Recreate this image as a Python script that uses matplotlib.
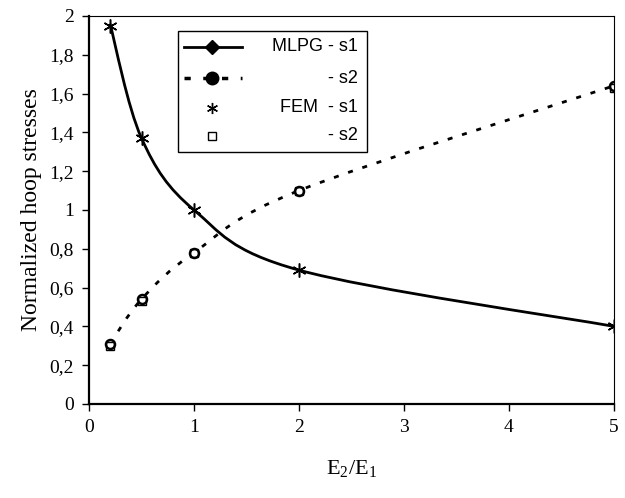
import numpy as np
import matplotlib
matplotlib.use("Agg")
import matplotlib.pyplot as plt
from matplotlib.path import Path
from matplotlib.patches import PathPatch, Rectangle
from matplotlib.lines import Line2D

# stiffness ratio E2/E1
ratio = [0.2, 0.5, 1.0, 2.0, 5.0]

# normalized hoop stresses
mlpg_s1 = [1.96, 1.37, 1.00, 0.69, 0.40]
mlpg_s2 = [0.31, 0.54, 0.78, 1.10, 1.64]
fem_s1 = [1.95, 1.37, 1.00, 0.69, 0.40]
fem_s2 = [0.30, 0.53, 0.78, 1.10, 1.63]

yticks = [0, 0.2, 0.4, 0.6, 0.8, 1.0, 1.2, 1.4, 1.6, 1.8, 2.0]
ytick_labels = ["0", "0,2", "0,4", "0,6", "0,8", "1", "1,2", "1,4", "1,6", "1,8", "2"]
xticks = [0, 1, 2, 3, 4, 5]

plt.rcParams["font.family"] = "Liberation Serif"
plt.rcParams["mathtext.fontset"] = "custom"
plt.rcParams["mathtext.rm"] = "Liberation Serif"


def smooth_path(x, y):
    # cubic bezier through the points (catmull-rom style, like spreadsheet smoothing)
    p = np.column_stack([x, y])
    n = len(p)
    verts = [p[0]]
    codes = [Path.MOVETO]
    for i in range(n - 1):
        p0 = p[i - 1] if i > 0 else p[i]
        p1 = p[i]
        p2 = p[i + 1]
        p3 = p[i + 2] if i + 2 < n else p[i + 1]
        c1 = p1 + (p2 - p0) / 6.0
        c2 = p2 - (p3 - p1) / 6.0
        verts += [c1, c2, p2]
        codes += [Path.CURVE4] * 3
    return Path(verts, codes)


fig = plt.figure(figsize=(6.25, 4.98), dpi=100)
ax = fig.add_axes([0.1424, 0.1888, 0.84, 0.7792])

ax.add_patch(PathPatch(smooth_path(ratio, mlpg_s1), fill=False, lw=2.0,
                       ec="black", capstyle="butt"))
ax.add_patch(PathPatch(smooth_path(ratio, mlpg_s2), fill=False, lw=2.0,
                       ec="black", linestyle=(0, (1.8, 3.6)), capstyle="butt"))

ax.plot(ratio, mlpg_s2, linestyle="none", marker="o", ms=6.5, mfc="white",
        mec="black", mew=1.8)
ax.plot(ratio, fem_s2, linestyle="none", marker="s", ms=5.5, mfc="none",
        mec="black", mew=1.0)
ax.plot(ratio, fem_s1, linestyle="none", marker=(6, 2, 0), ms=10,
        mec="black", mew=1.1)

ax.set_xlim(0, 5)
ax.set_ylim(0, 2)
ax.set_xticks(xticks)
ax.set_yticks(yticks)
ax.set_yticklabels(ytick_labels)
ax.tick_params(direction="out", length=5, width=1, labelsize=14, pad=6)

for side in ["left", "bottom"]:
    ax.spines[side].set_linewidth(1.6)
for side in ["top", "right"]:
    ax.spines[side].set_linewidth(0.8)

ax.set_ylabel("Normalized hoop stresses", fontsize=17, labelpad=5)
ax.set_xlabel(r"$\mathrm{E_2/E_1}$", fontsize=16, labelpad=16)

# legend box drawn by hand so the labels sit right-aligned
ax.add_patch(Rectangle((0.170, 0.649), 0.360, 0.312, transform=ax.transAxes,
                       fill=True, fc="white", ec="black", lw=1.0, zorder=5))
rows = [0.920, 0.840, 0.763, 0.691]
labels = ["MLPG - s1", "- s2", "FEM  - s1", "- s2"]
ax.add_line(Line2D([0.181, 0.291], [rows[0]] * 2, transform=ax.transAxes,
                   color="black", lw=2.0, zorder=6))
ax.add_line(Line2D([0.234], [rows[0]], transform=ax.transAxes, marker="D",
                   ms=7, color="black", zorder=6))
ax.add_line(Line2D([0.181, 0.291], [rows[1]] * 2, transform=ax.transAxes,
                   color="black", lw=2.5, linestyle=(0, (1.8, 3.6)), zorder=6))
ax.add_line(Line2D([0.234], [rows[1]], transform=ax.transAxes, marker="o",
                   ms=9, color="black", zorder=6))
ax.add_line(Line2D([0.234], [rows[2]], transform=ax.transAxes, marker=(6, 2, 0),
                   ms=8, color="black", mew=1.0, zorder=6))
ax.add_line(Line2D([0.234], [rows[3]], transform=ax.transAxes, marker="s",
                   ms=5.5, mfc="white", mec="black", mew=1.0, zorder=6))
for yy, lab in zip(rows, labels):
    ax.text(0.512, yy, lab, transform=ax.transAxes, ha="right", va="center",
            family="Liberation Sans", fontsize=13, zorder=6)

fig.savefig("out.png", dpi=100)
